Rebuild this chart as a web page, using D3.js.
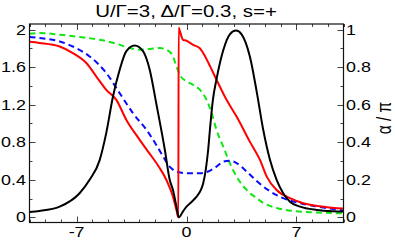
<!DOCTYPE html>
<html><head><meta charset="utf-8">
<script src="https://cdn.jsdelivr.net/npm/d3@7"></script>
<style>body{margin:0;background:#fff}svg{display:block}text{font-family:"Liberation Sans",Arial,sans-serif;fill:#000}</style>
</head><body><svg id="c" width="395" height="240"></svg>
<script>
const title = "U/Γ=3, Δ/Γ=0.3, s=+";
const rightLabel = "α / π";
const xTicksMajor = [-7, 0, 7];
const leftTicks = [0, 0.4, 0.8, 1.2, 1.6, 2];
const leftTickLabels = ["0", "0.4", "0.8", "1.2", "1.6", "2"];
const rightTicks = [0, 0.2, 0.4, 0.6, 0.8, 1];
const rightTickLabels = ["0", "0.2", "0.4", "0.6", "0.8", "1"];

// black: spectral function (left axis)
const blackX = [-10,-9.36,-8.08,-6.81,-6.17,-5.53,-5.11,-4.68,-4.26,-3.83,-3.3,-2.77,-2.34,-1.91,-1.38,-1.07,-0.86,-0.64,-0.49,-0.24,0,0.32,0.64,0.91,1.06,1.23,1.38,1.49,1.68,1.91,2.34,2.76,3.15,3.51,4.04,4.47,4.89,5.32,5.74,6.16,6.59,7.23,8.3,9.34,10];
const blackY = [0.058,0.068,0.114,0.257,0.4,0.61,0.9,1.29,1.57,1.77,1.83,1.77,1.57,1.2,0.72,0.4,0.29,0.114,0.0,0.058,0.114,0.164,0.22,0.29,0.36,0.51,0.72,0.93,1.25,1.47,1.78,1.95,1.99,1.95,1.71,1.34,0.93,0.61,0.4,0.257,0.167,0.114,0.079,0.066,0.063];
// red: phase (right axis)
const redX = [-10,-9.36,-8.08,-7.24,-6.38,-5.74,-5.11,-4.47,-3.83,-2.98,-2.34,-1.7,-1.28,-0.86,-0.64,-0.52,-0.5,-0.43,-0.22,0,0.42,0.85,1.06,1.3,1.49,1.91,2.55,3.19,4.04,4.68,5.11,5.74,6.59,7.44,8.72,10];
const redY = [0.935,0.929,0.91,0.875,0.822,0.75,0.679,0.626,0.519,0.413,0.338,0.262,0.199,0.11,0.039,0.0,1.01,0.995,0.946,0.941,0.919,0.901,0.875,0.839,0.807,0.733,0.626,0.537,0.402,0.306,0.217,0.146,0.102,0.075,0.057,0.047];
// blue dashed (right axis)
const blueX = [-10,-9.36,-8.08,-7.24,-6.17,-5.11,-4.26,-3.41,-2.55,-1.81,-1.49,-1.07,-0.64,0,0.85,1.38,1.91,2.34,2.76,3.19,3.83,4.47,5.19,6.16,7.23,8.3,9.57,10];
const blueY = [0.961,0.955,0.937,0.91,0.857,0.769,0.662,0.555,0.466,0.37,0.324,0.27,0.244,0.235,0.235,0.244,0.27,0.297,0.302,0.289,0.244,0.194,0.146,0.102,0.075,0.058,0.042,0.037];
// green dashed (right axis)
const greenX = [-10,-9.36,-8.08,-6.81,-5.53,-4.47,-3.62,-2.98,-2.34,-1.7,-1.28,-0.86,-0.64,-0.43,0,0.42,0.85,1.28,1.6,1.91,2.34,2.76,3.19,3.83,4.47,4.89,5.74,6.8,8.3,10];
const greenY = [0.978,0.982,0.973,0.961,0.946,0.925,0.902,0.893,0.897,0.902,0.893,0.857,0.804,0.76,0.724,0.706,0.68,0.626,0.555,0.466,0.377,0.289,0.217,0.146,0.102,0.077,0.05,0.034,0.026,0.021];

const svg = d3.select("#c");
const L = 29.5, R = 343.5, T = 24, B = 222.5;
const x = d3.scaleLinear().domain([-10, 10]).range([L, R]);
const yL = d3.scaleLinear().domain([-0.055, 2.06]).range([B, T]);
const yR = d3.scaleLinear().domain([-0.0275, 1.03]).range([B, T]);
const SX = 1.28;

svg.append("defs").append("clipPath").attr("id","clip").append("rect")
  .attr("x", L).attr("y", T).attr("width", R-L).attr("height", B-T);

// ticks
const tk = svg.append("g").attr("stroke", "#444").attr("stroke-width", 1);
d3.range(-10, 11, 1).forEach(v => {
  const len = xTicksMajor.includes(v) ? 6 : 3;
  const px = Math.round(x(v)) + 0.5;
  tk.append("line").attr("x1", px).attr("x2", px).attr("y1", B).attr("y2", B - len);
  tk.append("line").attr("x1", px).attr("x2", px).attr("y1", T).attr("y2", T + len);
});
d3.range(0, 2.01, 0.2).forEach((v, i) => {
  const len = i % 2 === 0 ? 6 : 3;
  const py = Math.round(yL(v)) + 0.5;
  tk.append("line").attr("x1", L).attr("x2", L + len).attr("y1", py).attr("y2", py);
});
d3.range(0, 1.001, 0.1).forEach((v, i) => {
  const len = i % 2 === 0 ? 6 : 3;
  const py = Math.round(yR(v)) + 0.5;
  tk.append("line").attr("x1", R).attr("x2", R - len).attr("y1", py).attr("y2", py);
});

// curves
const g = svg.append("g").attr("clip-path", "url(#clip)").attr("fill", "none").attr("stroke-width", 2);
function draw(xs, ys, ys_scale, color, dash) {
  const pts = xs.map((v, i) => [v, ys[i]]);
  const line = d3.line().x(d => x(d[0])).y(d => ys_scale(d[1])).curve(d3.curveMonotoneX);
  const p = g.append("path").attr("d", line(pts)).attr("stroke", color);
  if (dash) p.attr("stroke-dasharray", dash);
}
draw(greenX, greenY, yR, "#10e610", "6,4");
draw(blueX, blueY, yR, "#0a0aff", "6,4");
draw(redX, redY, yR, "#ff0000");
draw(blackX, blackY, yL, "#000000");

// frame
svg.append("rect").attr("x", L).attr("y", T).attr("width", R - L).attr("height", B - T)
  .attr("fill", "none").attr("stroke", "#111").attr("stroke-width", 1.2);

// labels
const fs = 14;
xTicksMajor.forEach(v => {
  svg.append("text").attr("transform", `translate(${x(v)},237) scale(${SX},1)`)
    .attr("text-anchor", "middle").attr("font-size", fs).text(v < 0 ? "-" + Math.abs(v) : String(v));
});
leftTicks.forEach((v, i) => {
  svg.append("text").attr("transform", `translate(26,${yL(v) + 5}) scale(${SX},1)`)
    .attr("text-anchor", "end").attr("font-size", fs).text(leftTickLabels[i]);
});
rightTicks.forEach((v, i) => {
  svg.append("text").attr("transform", `translate(346,${yR(v) + 5}) scale(${SX},1)`)
    .attr("text-anchor", "start").attr("font-size", fs).text(rightTickLabels[i]);
});
svg.append("text").attr("transform", `translate(186,17) scale(1.24,1)`)
  .attr("text-anchor", "middle").attr("font-size", 16.5).text(title);
svg.append("text").attr("transform", `translate(391,118) rotate(-90) scale(1,1.25)`)
  .attr("text-anchor", "middle").attr("font-size", 15.5).text(rightLabel);
</script></body></html>
